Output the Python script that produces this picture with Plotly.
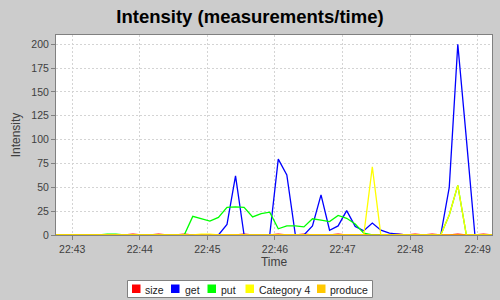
import pandas as pd
import plotly.graph_objects as go

# ---- data ----
series_names = ["size", "get", "put", "Category 4", "produce"]
series_colors = ["#FF0000", "#0000FF", "#00FF00", "#FFFF00", "#FFC800"]

times = pd.date_range("2000-01-01 22:42:45.6", periods=52, freq="7590ms")

size_vals = [0, 0, 0, 0, 0, 0, 0, 0, 0, 1, 0, 0, 1, 0, 0, 1, 0, 0, 0, 0,
             0, 0, 1, 0, 0, 0, 1, 0, 0, 1, 0, 0, 0, 1, 0, 0, 0, 0, 0, 0,
             1, 0, 1, 0, 1, 0, 0, 1, 0, 0, 1, 0]
get_vals = [0, 0, 0, 0, 0, 0, 0, 0, 0, 0, 0, 0, 0, 0, 0, 0, 0, 0, 0, 0,
            11, 62, 0, 0, 0, 0, 79.5, 63, 0, 0, 9.5, 42, 5, 9.5, 25.5, 9, 4.5, 12.5, 5, 2,
            1, 0, 0, 0, 0, 0, 50, 200, 101, 0, 0, 0]
put_vals = [0, 0, 0, 0, 0, 0, 1, 1, 0, 0, 0, 0, 0, 0, 0, 0, 19.5, 17, 14.5, 18.5,
            29, 29.5, 29, 19, 22.5, 24, 6.5, 9.5, 9.5, 8.5, 17, 15.5, 14, 20.5, 17.5, 11.5, 2, 0, 0, 0,
            0, 0, 0, 0, 0, 0, 21, 52, 0, 0, 0, 0]
cat4_vals = [0, 0, 0, 0, 0, 0, 0, 0, 0, 0, 0, 0, 0, 0, 0, 0, 0, 1, 1, 0,
             0, 0, 0, 0, 0, 0, 0, 0, 0, 0, 0, 0, 0, 0, 0, 0, 0, 71.5, 0, 0,
             0, 0, 0, 0, 0, 0, 21, 52, 0, 0, 0, 0]
produce_vals = [0] * 52

all_vals = [size_vals, get_vals, put_vals, cat4_vals, produce_vals]

y_ticks = [0, 25, 50, 75, 100, 125, 150, 175, 200]

# ---- figure ----
W, H = 500, 300
L, R, T, B = 56, 8, 35, 65
PW, PH = W - L - R, H - T - B


def px(x):
    return (x - L) / PW


def py(y):
    return (H - B - y) / PH


fig = go.Figure()
for name, col, vals in zip(series_names, series_colors, all_vals):
    fig.add_trace(go.Scatter(x=times, y=vals, mode="lines", name=name,
                             line=dict(color=col, width=1.3), showlegend=False))

FONT = "Liberation Sans, Arial, sans-serif"

# manual legend (JFreeChart style)
shapes = [dict(type="rect", xref="paper", yref="paper",
               x0=px(127.5), x1=px(372.5), y0=py(297.5), y1=py(280.5),
               fillcolor="white", line=dict(color="#808080", width=1))]
annotations = []
sq_x = [132, 171, 207.5, 245.5, 317]
tx_x = [142.5, 183, 219, 256.5, 328]
for name, col, sx, tx in zip(series_names, series_colors, sq_x, tx_x):
    shapes.append(dict(type="rect", xref="paper", yref="paper",
                       x0=px(sx), x1=px(sx + 8.5), y0=py(293), y1=py(284.5),
                       fillcolor=col, line=dict(width=0)))
    annotations.append(dict(xref="paper", yref="paper", x=px(tx), y=py(289.5),
                            text=name, showarrow=False, xanchor="left", yanchor="middle",
                            font=dict(family=FONT, size=10.5, color="#222222")))

fig.update_layout(
    width=W, height=H,
    margin=dict(l=L, r=R, t=T, b=B),
    paper_bgcolor="#CCCCCC", plot_bgcolor="white",
    title=dict(text="<b>Intensity (measurements/time)</b>", xref="container", x=0.5,
               xanchor="center", yref="container", y=1 - 17 / H, yanchor="middle",
               font=dict(family=FONT, size=18.5, color="black")),
    shapes=shapes, annotations=annotations,
    showlegend=False,
)
fig.update_xaxes(
    type="date", range=[times[0], times[-1]],
    tickformat="%H:%M", dtick=60000, tick0="2000-01-01 22:43:00",
    ticks="outside", ticklen=4, tickcolor="#808080",
    showline=True, linecolor="#808080", mirror=True,
    showgrid=True, gridcolor="#D4D4D4", griddash="2px,2px", gridwidth=1,
    tickfont=dict(family=FONT, size=10.5, color="#404040"),
    title=dict(text="Time", font=dict(family=FONT, size=12, color="#404040"), standoff=4),
    zeroline=False,
)
fig.update_yaxes(
    range=[0, 209.7], tickvals=y_ticks,
    ticks="outside", ticklen=4, tickcolor="#808080",
    showline=True, linecolor="#808080", mirror=True,
    showgrid=True, gridcolor="#D4D4D4", griddash="2px,2px", gridwidth=1,
    tickfont=dict(family=FONT, size=10.5, color="#404040"),
    title=dict(text="Intensity", font=dict(family=FONT, size=12, color="#404040"), standoff=8),
    zeroline=False,
)

fig.write_html("out.html")
